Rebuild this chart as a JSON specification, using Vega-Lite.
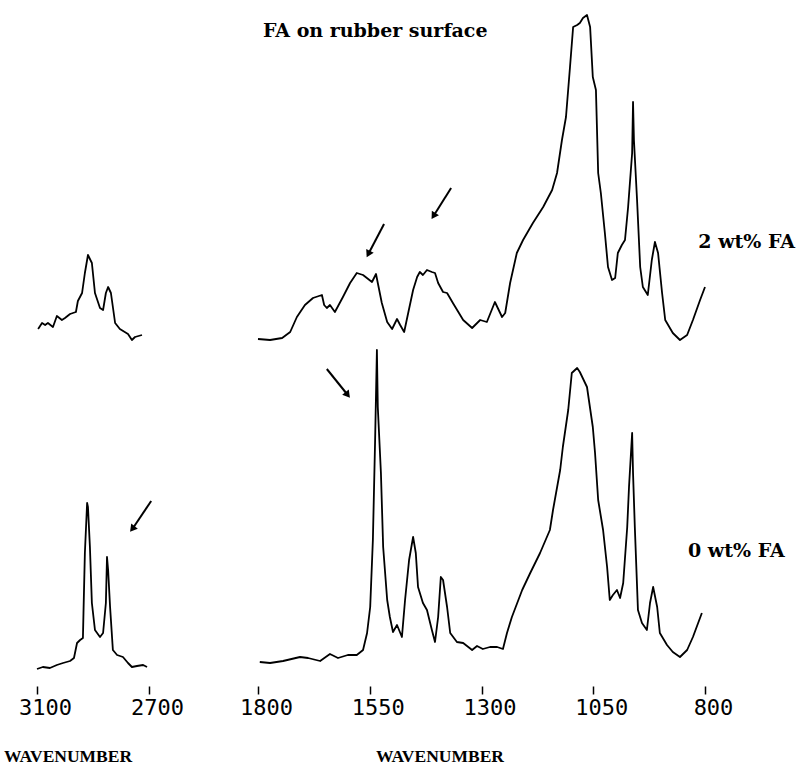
{
  "$schema": "https://vega.github.io/schema/vega-lite/v6.json",
  "width": 805,
  "height": 686,
  "padding": {"left": 0, "top": 0, "right": 0, "bottom": 85},
  "autosize": {"type": "none"},
  "background": "white",
  "config": {"view": {"stroke": null}},
  "datasets": {
    "spectra": [
      {"series":"CH 2 wt%","wavenumber":3096,"absorbance":3.57},{"series":"CH 2 wt%","wavenumber":3082,"absorbance":3.63},{"series":"CH 2 wt%","wavenumber":3071,"absorbance":3.61},{"series":"CH 2 wt%","wavenumber":3061,"absorbance":3.63},{"series":"CH 2 wt%","wavenumber":3043,"absorbance":3.59},{"series":"CH 2 wt%","wavenumber":3029,"absorbance":3.70},{"series":"CH 2 wt%","wavenumber":3011,"absorbance":3.66},{"series":"CH 2 wt%","wavenumber":3000,"absorbance":3.68},{"series":"CH 2 wt%","wavenumber":2982,"absorbance":3.72},{"series":"CH 2 wt%","wavenumber":2961,"absorbance":3.74},{"series":"CH 2 wt%","wavenumber":2954,"absorbance":3.85},{"series":"CH 2 wt%","wavenumber":2939,"absorbance":3.93},{"series":"CH 2 wt%","wavenumber":2929,"absorbance":4.13},{"series":"CH 2 wt%","wavenumber":2918,"absorbance":4.31},{"series":"CH 2 wt%","wavenumber":2904,"absorbance":4.23},{"series":"CH 2 wt%","wavenumber":2893,"absorbance":3.93},{"series":"CH 2 wt%","wavenumber":2875,"absorbance":3.78},{"series":"CH 2 wt%","wavenumber":2864,"absorbance":3.76},{"series":"CH 2 wt%","wavenumber":2854,"absorbance":3.93},{"series":"CH 2 wt%","wavenumber":2846,"absorbance":3.99},{"series":"CH 2 wt%","wavenumber":2836,"absorbance":3.93},{"series":"CH 2 wt%","wavenumber":2821,"absorbance":3.63},{"series":"CH 2 wt%","wavenumber":2804,"absorbance":3.57},{"series":"CH 2 wt%","wavenumber":2775,"absorbance":3.52},{"series":"CH 2 wt%","wavenumber":2761,"absorbance":3.46},{"series":"CH 2 wt%","wavenumber":2750,"absorbance":3.49},{"series":"CH 2 wt%","wavenumber":2725,"absorbance":3.51},

      {"series":"CH 0 wt%","wavenumber":3100,"absorbance":0.17},{"series":"CH 0 wt%","wavenumber":3079,"absorbance":0.19},{"series":"CH 0 wt%","wavenumber":3054,"absorbance":0.18},{"series":"CH 0 wt%","wavenumber":3029,"absorbance":0.21},{"series":"CH 0 wt%","wavenumber":3007,"absorbance":0.23},{"series":"CH 0 wt%","wavenumber":2982,"absorbance":0.25},{"series":"CH 0 wt%","wavenumber":2968,"absorbance":0.28},{"series":"CH 0 wt%","wavenumber":2957,"absorbance":0.43},{"series":"CH 0 wt%","wavenumber":2946,"absorbance":0.46},{"series":"CH 0 wt%","wavenumber":2936,"absorbance":0.48},{"series":"CH 0 wt%","wavenumber":2934,"absorbance":0.73},{"series":"CH 0 wt%","wavenumber":2929,"absorbance":1.33},{"series":"CH 0 wt%","wavenumber":2921,"absorbance":1.83},{"series":"CH 0 wt%","wavenumber":2918,"absorbance":1.79},{"series":"CH 0 wt%","wavenumber":2911,"absorbance":1.39},{"series":"CH 0 wt%","wavenumber":2904,"absorbance":0.83},{"series":"CH 0 wt%","wavenumber":2893,"absorbance":0.56},{"series":"CH 0 wt%","wavenumber":2875,"absorbance":0.49},{"series":"CH 0 wt%","wavenumber":2864,"absorbance":0.53},{"series":"CH 0 wt%","wavenumber":2854,"absorbance":0.83},{"series":"CH 0 wt%","wavenumber":2850,"absorbance":1.29},{"series":"CH 0 wt%","wavenumber":2846,"absorbance":1.16},{"series":"CH 0 wt%","wavenumber":2839,"absorbance":0.79},{"series":"CH 0 wt%","wavenumber":2829,"absorbance":0.36},{"series":"CH 0 wt%","wavenumber":2814,"absorbance":0.31},{"series":"CH 0 wt%","wavenumber":2793,"absorbance":0.29},{"series":"CH 0 wt%","wavenumber":2775,"absorbance":0.23},{"series":"CH 0 wt%","wavenumber":2761,"absorbance":0.19},{"series":"CH 0 wt%","wavenumber":2743,"absorbance":0.20},{"series":"CH 0 wt%","wavenumber":2721,"absorbance":0.21},{"series":"CH 0 wt%","wavenumber":2707,"absorbance":0.19},

      {"series":"FP 2 wt%","wavenumber":1800,"absorbance":3.47},{"series":"FP 2 wt%","wavenumber":1773,"absorbance":3.46},{"series":"FP 2 wt%","wavenumber":1746,"absorbance":3.48},{"series":"FP 2 wt%","wavenumber":1728,"absorbance":3.54},{"series":"FP 2 wt%","wavenumber":1713,"absorbance":3.69},{"series":"FP 2 wt%","wavenumber":1695,"absorbance":3.81},{"series":"FP 2 wt%","wavenumber":1677,"absorbance":3.88},{"series":"FP 2 wt%","wavenumber":1657,"absorbance":3.91},{"series":"FP 2 wt%","wavenumber":1652,"absorbance":3.81},{"series":"FP 2 wt%","wavenumber":1646,"absorbance":3.78},{"series":"FP 2 wt%","wavenumber":1639,"absorbance":3.81},{"series":"FP 2 wt%","wavenumber":1628,"absorbance":3.74},{"series":"FP 2 wt%","wavenumber":1610,"absorbance":3.89},{"series":"FP 2 wt%","wavenumber":1594,"absorbance":4.03},{"series":"FP 2 wt%","wavenumber":1579,"absorbance":4.13},{"series":"FP 2 wt%","wavenumber":1565,"absorbance":4.11},{"series":"FP 2 wt%","wavenumber":1545,"absorbance":4.04},{"series":"FP 2 wt%","wavenumber":1536,"absorbance":4.12},{"series":"FP 2 wt%","wavenumber":1532,"absorbance":4.03},{"series":"FP 2 wt%","wavenumber":1523,"absorbance":3.83},{"series":"FP 2 wt%","wavenumber":1511,"absorbance":3.64},{"series":"FP 2 wt%","wavenumber":1500,"absorbance":3.57},{"series":"FP 2 wt%","wavenumber":1489,"absorbance":3.67},{"series":"FP 2 wt%","wavenumber":1482,"absorbance":3.61},{"series":"FP 2 wt%","wavenumber":1473,"absorbance":3.54},{"series":"FP 2 wt%","wavenumber":1464,"absorbance":3.73},{"series":"FP 2 wt%","wavenumber":1453,"absorbance":3.96},{"series":"FP 2 wt%","wavenumber":1444,"absorbance":4.09},{"series":"FP 2 wt%","wavenumber":1438,"absorbance":4.14},{"series":"FP 2 wt%","wavenumber":1431,"absorbance":4.11},{"series":"FP 2 wt%","wavenumber":1422,"absorbance":4.16},{"series":"FP 2 wt%","wavenumber":1411,"absorbance":4.14},{"series":"FP 2 wt%","wavenumber":1404,"absorbance":4.13},{"series":"FP 2 wt%","wavenumber":1397,"absorbance":4.03},{"series":"FP 2 wt%","wavenumber":1386,"absorbance":3.94},{"series":"FP 2 wt%","wavenumber":1377,"absorbance":3.93},{"series":"FP 2 wt%","wavenumber":1364,"absorbance":3.83},{"series":"FP 2 wt%","wavenumber":1341,"absorbance":3.66},{"series":"FP 2 wt%","wavenumber":1321,"absorbance":3.58},{"series":"FP 2 wt%","wavenumber":1303,"absorbance":3.66},{"series":"FP 2 wt%","wavenumber":1288,"absorbance":3.64},{"series":"FP 2 wt%","wavenumber":1270,"absorbance":3.84},{"series":"FP 2 wt%","wavenumber":1254,"absorbance":3.69},{"series":"FP 2 wt%","wavenumber":1247,"absorbance":3.73},{"series":"FP 2 wt%","wavenumber":1236,"absorbance":4.03},{"series":"FP 2 wt%","wavenumber":1221,"absorbance":4.33},{"series":"FP 2 wt%","wavenumber":1207,"absorbance":4.46},{"series":"FP 2 wt%","wavenumber":1185,"absorbance":4.63},{"series":"FP 2 wt%","wavenumber":1162,"absorbance":4.79},{"series":"FP 2 wt%","wavenumber":1142,"absorbance":4.96},{"series":"FP 2 wt%","wavenumber":1131,"absorbance":5.13},{"series":"FP 2 wt%","wavenumber":1120,"absorbance":5.46},{"series":"FP 2 wt%","wavenumber":1111,"absorbance":5.69},{"series":"FP 2 wt%","wavenumber":1102,"absorbance":6.19},{"series":"FP 2 wt%","wavenumber":1095,"absorbance":6.59},{"series":"FP 2 wt%","wavenumber":1086,"absorbance":6.61},{"series":"FP 2 wt%","wavenumber":1080,"absorbance":6.63},{"series":"FP 2 wt%","wavenumber":1073,"absorbance":6.68},{"series":"FP 2 wt%","wavenumber":1064,"absorbance":6.71},{"series":"FP 2 wt%","wavenumber":1057,"absorbance":6.59},{"series":"FP 2 wt%","wavenumber":1051,"absorbance":6.09},{"series":"FP 2 wt%","wavenumber":1044,"absorbance":5.96},{"series":"FP 2 wt%","wavenumber":1039,"absorbance":5.13},{"series":"FP 2 wt%","wavenumber":1033,"absorbance":4.93},{"series":"FP 2 wt%","wavenumber":1024,"absorbance":4.53},{"series":"FP 2 wt%","wavenumber":1017,"absorbance":4.19},{"series":"FP 2 wt%","wavenumber":1008,"absorbance":4.06},{"series":"FP 2 wt%","wavenumber":1001,"absorbance":4.08},{"series":"FP 2 wt%","wavenumber":995,"absorbance":4.33},{"series":"FP 2 wt%","wavenumber":986,"absorbance":4.41},{"series":"FP 2 wt%","wavenumber":979,"absorbance":4.46},{"series":"FP 2 wt%","wavenumber":972,"absorbance":4.79},{"series":"FP 2 wt%","wavenumber":963,"absorbance":5.33},{"series":"FP 2 wt%","wavenumber":961,"absorbance":5.84},{"series":"FP 2 wt%","wavenumber":959,"absorbance":5.46},{"series":"FP 2 wt%","wavenumber":952,"absorbance":4.86},{"series":"FP 2 wt%","wavenumber":945,"absorbance":4.19},{"series":"FP 2 wt%","wavenumber":939,"absorbance":3.99},{"series":"FP 2 wt%","wavenumber":928,"absorbance":3.91},{"series":"FP 2 wt%","wavenumber":919,"absorbance":4.26},{"series":"FP 2 wt%","wavenumber":912,"absorbance":4.44},{"series":"FP 2 wt%","wavenumber":905,"absorbance":4.33},{"series":"FP 2 wt%","wavenumber":896,"absorbance":3.93},{"series":"FP 2 wt%","wavenumber":889,"absorbance":3.66},{"series":"FP 2 wt%","wavenumber":872,"absorbance":3.53},{"series":"FP 2 wt%","wavenumber":856,"absorbance":3.46},{"series":"FP 2 wt%","wavenumber":840,"absorbance":3.51},{"series":"FP 2 wt%","wavenumber":827,"absorbance":3.66},{"series":"FP 2 wt%","wavenumber":811,"absorbance":3.86},{"series":"FP 2 wt%","wavenumber":800,"absorbance":3.99},

      {"series":"FP 0 wt%","wavenumber":1796,"absorbance":0.24},{"series":"FP 0 wt%","wavenumber":1773,"absorbance":0.23},{"series":"FP 0 wt%","wavenumber":1744,"absorbance":0.25},{"series":"FP 0 wt%","wavenumber":1706,"absorbance":0.29},{"series":"FP 0 wt%","wavenumber":1688,"absorbance":0.28},{"series":"FP 0 wt%","wavenumber":1661,"absorbance":0.25},{"series":"FP 0 wt%","wavenumber":1639,"absorbance":0.32},{"series":"FP 0 wt%","wavenumber":1621,"absorbance":0.28},{"series":"FP 0 wt%","wavenumber":1599,"absorbance":0.31},{"series":"FP 0 wt%","wavenumber":1579,"absorbance":0.31},{"series":"FP 0 wt%","wavenumber":1565,"absorbance":0.36},{"series":"FP 0 wt%","wavenumber":1556,"absorbance":0.53},{"series":"FP 0 wt%","wavenumber":1549,"absorbance":0.79},{"series":"FP 0 wt%","wavenumber":1543,"absorbance":1.46},{"series":"FP 0 wt%","wavenumber":1538,"absorbance":2.46},{"series":"FP 0 wt%","wavenumber":1534,"absorbance":3.36},{"series":"FP 0 wt%","wavenumber":1532,"absorbance":2.79},{"series":"FP 0 wt%","wavenumber":1525,"absorbance":2.13},{"series":"FP 0 wt%","wavenumber":1520,"absorbance":1.39},{"series":"FP 0 wt%","wavenumber":1511,"absorbance":0.86},{"series":"FP 0 wt%","wavenumber":1505,"absorbance":0.69},{"series":"FP 0 wt%","wavenumber":1498,"absorbance":0.54},{"series":"FP 0 wt%","wavenumber":1489,"absorbance":0.61},{"series":"FP 0 wt%","wavenumber":1478,"absorbance":0.49},{"series":"FP 0 wt%","wavenumber":1471,"absorbance":0.86},{"series":"FP 0 wt%","wavenumber":1462,"absorbance":1.26},{"series":"FP 0 wt%","wavenumber":1453,"absorbance":1.49},{"series":"FP 0 wt%","wavenumber":1447,"absorbance":1.33},{"series":"FP 0 wt%","wavenumber":1442,"absorbance":0.99},{"series":"FP 0 wt%","wavenumber":1431,"absorbance":0.83},{"series":"FP 0 wt%","wavenumber":1422,"absorbance":0.76},{"series":"FP 0 wt%","wavenumber":1411,"absorbance":0.56},{"series":"FP 0 wt%","wavenumber":1404,"absorbance":0.44},{"series":"FP 0 wt%","wavenumber":1397,"absorbance":0.69},{"series":"FP 0 wt%","wavenumber":1391,"absorbance":1.09},{"series":"FP 0 wt%","wavenumber":1386,"absorbance":1.06},{"series":"FP 0 wt%","wavenumber":1377,"absorbance":0.79},{"series":"FP 0 wt%","wavenumber":1370,"absorbance":0.53},{"series":"FP 0 wt%","wavenumber":1355,"absorbance":0.44},{"series":"FP 0 wt%","wavenumber":1341,"absorbance":0.43},{"series":"FP 0 wt%","wavenumber":1321,"absorbance":0.36},{"series":"FP 0 wt%","wavenumber":1310,"absorbance":0.40},{"series":"FP 0 wt%","wavenumber":1297,"absorbance":0.37},{"series":"FP 0 wt%","wavenumber":1281,"absorbance":0.39},{"series":"FP 0 wt%","wavenumber":1265,"absorbance":0.39},{"series":"FP 0 wt%","wavenumber":1252,"absorbance":0.37},{"series":"FP 0 wt%","wavenumber":1243,"absorbance":0.53},{"series":"FP 0 wt%","wavenumber":1232,"absorbance":0.69},{"series":"FP 0 wt%","wavenumber":1209,"absorbance":0.96},{"series":"FP 0 wt%","wavenumber":1191,"absorbance":1.13},{"series":"FP 0 wt%","wavenumber":1169,"absorbance":1.33},{"series":"FP 0 wt%","wavenumber":1147,"absorbance":1.56},{"series":"FP 0 wt%","wavenumber":1140,"absorbance":1.76},{"series":"FP 0 wt%","wavenumber":1124,"absorbance":2.16},{"series":"FP 0 wt%","wavenumber":1118,"absorbance":2.39},{"series":"FP 0 wt%","wavenumber":1106,"absorbance":2.76},{"series":"FP 0 wt%","wavenumber":1098,"absorbance":3.13},{"series":"FP 0 wt%","wavenumber":1086,"absorbance":3.18},{"series":"FP 0 wt%","wavenumber":1080,"absorbance":3.14},{"series":"FP 0 wt%","wavenumber":1064,"absorbance":2.99},{"series":"FP 0 wt%","wavenumber":1051,"absorbance":2.59},{"series":"FP 0 wt%","wavenumber":1046,"absorbance":2.33},{"series":"FP 0 wt%","wavenumber":1039,"absorbance":1.86},{"series":"FP 0 wt%","wavenumber":1028,"absorbance":1.56},{"series":"FP 0 wt%","wavenumber":1019,"absorbance":1.19},{"series":"FP 0 wt%","wavenumber":1013,"absorbance":0.86},{"series":"FP 0 wt%","wavenumber":1006,"absorbance":0.91},{"series":"FP 0 wt%","wavenumber":997,"absorbance":0.96},{"series":"FP 0 wt%","wavenumber":990,"absorbance":0.88},{"series":"FP 0 wt%","wavenumber":983,"absorbance":1.03},{"series":"FP 0 wt%","wavenumber":974,"absorbance":1.59},{"series":"FP 0 wt%","wavenumber":970,"absorbance":1.99},{"series":"FP 0 wt%","wavenumber":963,"absorbance":2.53},{"series":"FP 0 wt%","wavenumber":961,"absorbance":2.13},{"series":"FP 0 wt%","wavenumber":957,"absorbance":1.59},{"series":"FP 0 wt%","wavenumber":950,"absorbance":0.76},{"series":"FP 0 wt%","wavenumber":941,"absorbance":0.63},{"series":"FP 0 wt%","wavenumber":930,"absorbance":0.56},{"series":"FP 0 wt%","wavenumber":923,"absorbance":0.83},{"series":"FP 0 wt%","wavenumber":916,"absorbance":0.99},{"series":"FP 0 wt%","wavenumber":907,"absorbance":0.79},{"series":"FP 0 wt%","wavenumber":901,"absorbance":0.53},{"series":"FP 0 wt%","wavenumber":885,"absorbance":0.41},{"series":"FP 0 wt%","wavenumber":872,"absorbance":0.34},{"series":"FP 0 wt%","wavenumber":856,"absorbance":0.29},{"series":"FP 0 wt%","wavenumber":840,"absorbance":0.36},{"series":"FP 0 wt%","wavenumber":827,"absorbance":0.49},{"series":"FP 0 wt%","wavenumber":807,"absorbance":0.73}
    ],
    "axislines": [
      {"from": 3100, "to": 2700},
      {"from": 1800, "to": 800}
    ],
    "arrows": [
      {"id": "a1", "tail_wn": 1518, "tail_a": 4.62, "tip_wn": 1552, "tip_a": 4.33},
      {"id": "a2", "tail_wn": 1368, "tail_a": 4.98, "tip_wn": 1406, "tip_a": 4.71},
      {"id": "a3", "tail_wn": 1646, "tail_a": 3.17, "tip_wn": 1601, "tip_a": 2.92},
      {"id": "a4", "tail_wn": 2682, "tail_a": 1.85, "tip_wn": 2757, "tip_a": 1.58}
    ],
    "labels": [
      {"text": "FA on rubber surface", "wavenumber": 1789, "absorbance": 6.49},
      {"text": "2 wt% FA", "wavenumber": 815, "absorbance": 4.38},
      {"text": "0 wt% FA", "wavenumber": 838, "absorbance": 1.29}
    ],
    "axistitles": [
      {"text": "WAVENUMBER", "wavenumber": 2989, "absorbance": -0.76},
      {"text": "WAVENUMBER", "wavenumber": 1393, "absorbance": -0.76}
    ]
  },
  "encoding": {
    "x": {"field": "wavenumber", "type": "quantitative"},
    "y": {"field": "absorbance", "type": "quantitative"}
  },
  "layer": [
    {
      "data": {"name": "spectra"},
      "mark": {"type": "line", "color": "black", "strokeWidth": 1.8, "strokeJoin": "round"},
      "encoding": {
        "x": {
          "field": "wavenumber", "type": "quantitative",
          "scale": {"domain": [3100, 2700, 1800, 800], "range": [37, 149, 258, 705], "nice": false, "zero": false},
          "axis": {
            "values": [3100, 2700, 1800, 1550, 1300, 1050, 800],
            "format": "d",
            "title": null, "domain": false, "grid": false,
            "ticks": true, "tickSize": 8, "tickWidth": 1.5, "tickColor": "black",
            "labelFont": "DejaVu Sans Mono", "labelFontSize": 22, "labelColor": "black",
            "labelOffset": 8, "labelPadding": 3, "labelBaseline": "top", "labelFlush": false, "labelOverlap": false
          }
        },
        "y": {
          "field": "absorbance", "type": "quantitative",
          "scale": {"domain": [0, 6.86], "nice": false, "zero": false},
          "axis": null
        },
        "detail": {"field": "series", "type": "nominal"}
      }
    },
    {
      "data": {"name": "axislines"},
      "mark": {"type": "rule", "color": "black", "strokeWidth": 1.6},
      "encoding": {
        "x": {"field": "from", "type": "quantitative"},
        "x2": {"field": "to"},
        "y": {"datum": 0}
      }
    },
    {
      "data": {"name": "arrows"},
      "mark": {"type": "rule", "color": "black", "strokeWidth": 2},
      "encoding": {
        "x": {"field": "tail_wn", "type": "quantitative"},
        "y": {"field": "tail_a", "type": "quantitative"},
        "x2": {"field": "tip_wn"},
        "y2": {"field": "tip_a"}
      }
    },
    {
      "data": {"name": "arrows"},
      "transform": [{"filter": {"field": "id", "equal": "a1"}}],
      "mark": {"type": "point", "shape": "triangle", "filled": true, "color": "black", "opacity": 1, "size": 70, "angle": 207},
      "encoding": {"x": {"field": "tip_wn", "type": "quantitative"}, "y": {"field": "tip_a", "type": "quantitative"}}
    },
    {
      "data": {"name": "arrows"},
      "transform": [{"filter": {"field": "id", "equal": "a2"}}],
      "mark": {"type": "point", "shape": "triangle", "filled": true, "color": "black", "opacity": 1, "size": 70, "angle": 212},
      "encoding": {"x": {"field": "tip_wn", "type": "quantitative"}, "y": {"field": "tip_a", "type": "quantitative"}}
    },
    {
      "data": {"name": "arrows"},
      "transform": [{"filter": {"field": "id", "equal": "a3"}}],
      "mark": {"type": "point", "shape": "triangle", "filled": true, "color": "black", "opacity": 1, "size": 70, "angle": 142},
      "encoding": {"x": {"field": "tip_wn", "type": "quantitative"}, "y": {"field": "tip_a", "type": "quantitative"}}
    },
    {
      "data": {"name": "arrows"},
      "transform": [{"filter": {"field": "id", "equal": "a4"}}],
      "mark": {"type": "point", "shape": "triangle", "filled": true, "color": "black", "opacity": 1, "size": 70, "angle": 218},
      "encoding": {"x": {"field": "tip_wn", "type": "quantitative"}, "y": {"field": "tip_a", "type": "quantitative"}}
    },
    {
      "data": {"name": "labels"},
      "mark": {"type": "text", "font": "DejaVu Serif", "fontWeight": "bold", "fontSize": 19, "align": "left", "baseline": "alphabetic", "color": "black"},
      "encoding": {"text": {"field": "text"}}
    },
    {
      "data": {"name": "axistitles"},
      "mark": {"type": "text", "font": "Liberation Serif", "fontWeight": "bold", "fontSize": 17.5, "align": "center", "baseline": "alphabetic", "color": "black"},
      "encoding": {"text": {"field": "text"}}
    }
  ]
}
